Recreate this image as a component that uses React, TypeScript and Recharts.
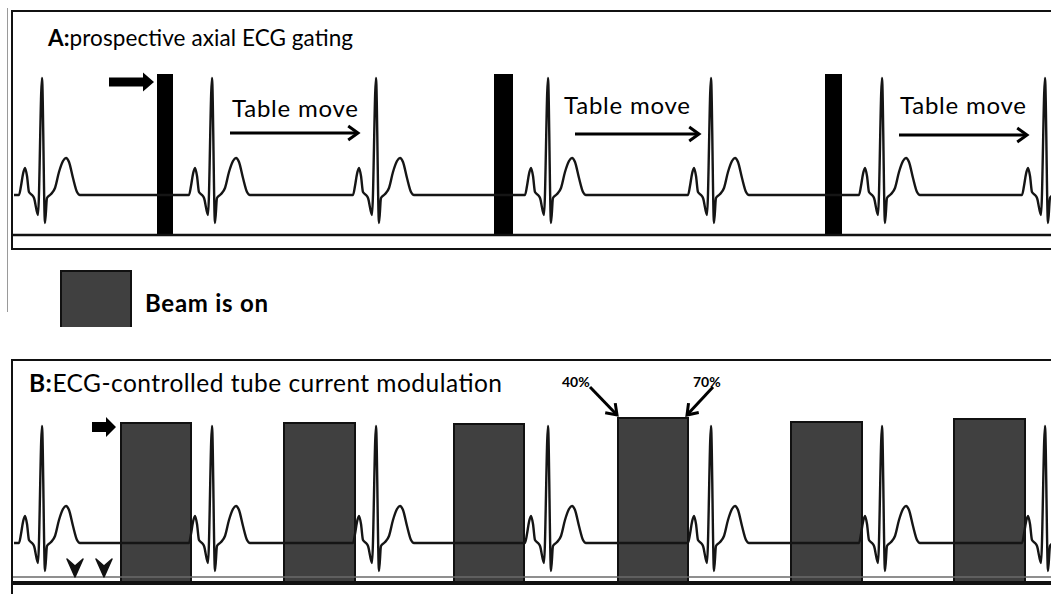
import React from 'react';
import {
  ComposedChart,
  Line,
  XAxis,
  YAxis,
  ReferenceArea,
  ReferenceLine,
  ReferenceDot,
} from 'recharts';

const W = 1051;
const H = 594;
const PLOT_LEFT = 13;
const PLOT_W = W - PLOT_LEFT;
const FONT = 'Lato, "Open Sans", sans-serif';

// time axis of the strip, ms (starts at the panel frame)
const timeDomain = [65, 5255];

// R-peak times (ms); both panels show the same ECG strip
const rPeaks = [210, 1060, 1880, 2740, 3555, 4410, 5225];

// one PQRST complex: offset from the R peak (ms) and amplitude (mV)
const beatOffsets = [-140, -115, -105, -95, -85, -75, -65, -50, -40, -20, 0, 15, 25, 40, 50, 65, 85, 105, 120, 135, 155, 175, 190];
const beatMv = [0, 0, 0.09, 0.21, 0.27, 0.19, 0.03, 0, -0.03, -0.2, 1.17, -0.28, -0.03, 0, 0.02, 0.07, 0.23, 0.34, 0.37, 0.33, 0.17, 0.03, 0];

// A: prospective gating, short exposure windows (ms)
const gateStart = [785, 2470, 4125];
const gateEnd = [865, 2565, 4210];
const gateTop = 1.21;
const gateBottom = -0.4;

// B: tube current on windows (ms) and their heights (mV scale)
const beamStart = [605, 1420, 2270, 3090, 3955, 4770];
const beamEnd = [955, 1775, 2620, 3440, 4310, 5125];
const beamTop = [1.2, 1.2, 1.19, 1.25, 1.21, 1.24];
const beamBottom = -0.4;

// "Table move" arrows in panel A
const moveFrom = [1150, 2875, 4495];
const moveTo = [1790, 3495, 5135];
const moveLevel = [0.62, 0.61, 0.6];
const moveLabelX = [232, 564, 900];
const moveLabelY = [117, 114, 114];

const stripData = rPeaks.flatMap((r) =>
  beatOffsets.map((o, i) => ({ t: r + o, v: beatMv[i] }))
);

const OpenArrow = (p: any) => {
  const { x1, y1, x2, y2 } = p;
  const a = Math.atan2(y2 - y1, x2 - x1);
  const L = 12;
  const s = 0.62;
  const ax = x2 - L * Math.cos(a - s);
  const ay = y2 - L * Math.sin(a - s);
  const bx = x2 - L * Math.cos(a + s);
  const by = y2 - L * Math.sin(a + s);
  const w = p.strokeWidth || 3;
  return (
    <g>
      <line x1={x1} y1={y1} x2={x2 - Math.cos(a)} y2={y2 - Math.sin(a)} stroke="#000" strokeWidth={w} />
      <path d={`M${ax},${ay} L${x2},${y2} L${bx},${by}`} fill="none" stroke="#000" strokeWidth={w} />
    </g>
  );
};

const blockArrow = (len: number, shaft: number, head: number, headH: number) => (p: any) => {
  const { cx, cy } = p;
  const x0 = cx - len;
  const xh = cx - head;
  const d = `M${x0},${cy - shaft / 2} L${xh},${cy - shaft / 2} L${xh},${cy - headH / 2} L${cx},${cy} L${xh},${cy + headH / 2} L${xh},${cy + shaft / 2} L${x0},${cy + shaft / 2} Z`;
  return <path d={d} fill="#000" />;
};

const Chevron = (p: any) => {
  const { cx, cy } = p;
  return (
    <path
      d={`M${cx - 8},${cy - 18} L${cx},${cy - 11} L${cx + 8},${cy - 18} L${cx},${cy} Z`}
      fill="#111"
      stroke="#111"
      strokeWidth={1.5}
      strokeLinejoin="round"
    />
  );
};

function Strip({ height, yDomain, children }: { height: number; yDomain: number[]; children?: React.ReactNode }) {
  return (
    <ComposedChart width={PLOT_W} height={height} data={stripData} margin={{ top: 0, right: 0, bottom: 0, left: 0 }}>
      <XAxis type="number" dataKey="t" domain={timeDomain} allowDataOverflow hide />
      <YAxis type="number" domain={yDomain} allowDataOverflow hide />
      {children}
      <Line
        type="monotone"
        dataKey="v"
        stroke="#151515"
        strokeWidth={2.4}
        dot={false}
        activeDot={false}
        isAnimationActive={false}
      />
    </ComposedChart>
  );
}

export default function App() {
  return (
    <div style={{ position: 'absolute', left: 0, top: 0, width: W, height: H, background: '#fff', overflow: 'hidden', fontFamily: FONT }}>
      <div style={{ position: 'absolute', left: 7, top: 8, width: 1, height: 304, background: '#9a9a9a' }} />

      {/* panel A frame */}
      <div style={{ position: 'absolute', left: 11, top: 10, width: 1100, height: 240, boxSizing: 'border-box', borderTop: '2px solid #111', borderLeft: '2px solid #111', borderBottom: '2px solid #111' }} />
      <div style={{ position: 'absolute', left: PLOT_LEFT, top: 11, width: PLOT_W, height: 237 }}>
        <Strip height={237} yDomain={[-0.53, 1.84]}>
          <ReferenceLine y={-0.4} stroke="#111" strokeWidth={2.5} />
          {gateStart.map((s, i) => (
            <ReferenceArea key={i} x1={s} x2={gateEnd[i]} y1={gateBottom} y2={gateTop} fill="#000" fillOpacity={1} stroke="none" />
          ))}
          {moveFrom.map((s, i) => (
            <ReferenceLine key={'m' + i} segment={[{ x: s, y: moveLevel[i] }, { x: moveTo[i], y: moveLevel[i] }]} strokeWidth={3} shape={OpenArrow} />
          ))}
          <ReferenceDot x={770} y={1.13} r={1} shape={blockArrow(45, 9, 11, 19)} />
        </Strip>
      </div>

      {/* legend */}
      <div style={{ position: 'absolute', left: 60, top: 270, width: 72, height: 57, boxSizing: 'border-box', background: '#404040', border: '2px solid #111', borderBottom: 'none' }} />

      {/* panel B frame */}
      <div style={{ position: 'absolute', left: 11, top: 359, width: 1100, height: 300, boxSizing: 'border-box', borderTop: '2px solid #111', borderLeft: '2px solid #111' }} />
      <div style={{ position: 'absolute', left: PLOT_LEFT, top: 360, width: PLOT_W, height: 234 }}>
        <Strip height={234} yDomain={[-0.51, 1.83]}>
          <ReferenceLine y={-0.34} stroke="#6a6a6a" strokeWidth={1.5} />
          <ReferenceLine y={-0.4} stroke="#111" strokeWidth={4} />
          {beamStart.map((s, i) => (
            <ReferenceArea key={i} x1={s} x2={beamEnd[i]} y1={beamBottom} y2={beamTop[i]} fill="#404040" fillOpacity={1} stroke="#111" strokeWidth={2} />
          ))}
          <ReferenceLine segment={[{ x: 2950, y: 1.56 }, { x: 3085, y: 1.28 }]} strokeWidth={3} shape={OpenArrow} />
          <ReferenceLine segment={[{ x: 3565, y: 1.56 }, { x: 3435, y: 1.28 }]} strokeWidth={3} shape={OpenArrow} />
          <ReferenceDot x={580} y={1.16} r={1} shape={blockArrow(24, 10, 10, 20)} />
          <ReferenceDot x={375} y={-0.34} r={1} shape={Chevron} />
          <ReferenceDot x={520} y={-0.34} r={1} shape={Chevron} />
        </Strip>
      </div>

      {/* text */}
      <svg width={W} height={H} style={{ position: 'absolute', left: 0, top: 0, pointerEvents: 'none' }} fontFamily={FONT}>
        <text x={48} y={46} fontSize={22.5} fill="#000" textLength={305} lengthAdjust="spacing">
          <tspan fontWeight={700}>A:</tspan>prospective axial ECG gating
        </text>
        {moveLabelX.map((x, i) => (
          <text key={i} x={x} y={moveLabelY[i]} fontSize={24} fill="#000" textLength={126} lengthAdjust="spacing">Table move</text>
        ))}
        <text x={145} y={312} fontSize={24} fontWeight={700} fill="#000" textLength={123} lengthAdjust="spacing">Beam is on</text>
        <text x={29} y={392} fontSize={24.5} fill="#000" textLength={473} lengthAdjust="spacing">
          <tspan fontWeight={700}>B:</tspan>ECG-controlled tube current modulation
        </text>
        <text x={562} y={387} fontSize={14} fontWeight={700} fill="#000">40%</text>
        <text x={693} y={387} fontSize={14} fontWeight={700} fill="#000">70%</text>
      </svg>
    </div>
  );
}
